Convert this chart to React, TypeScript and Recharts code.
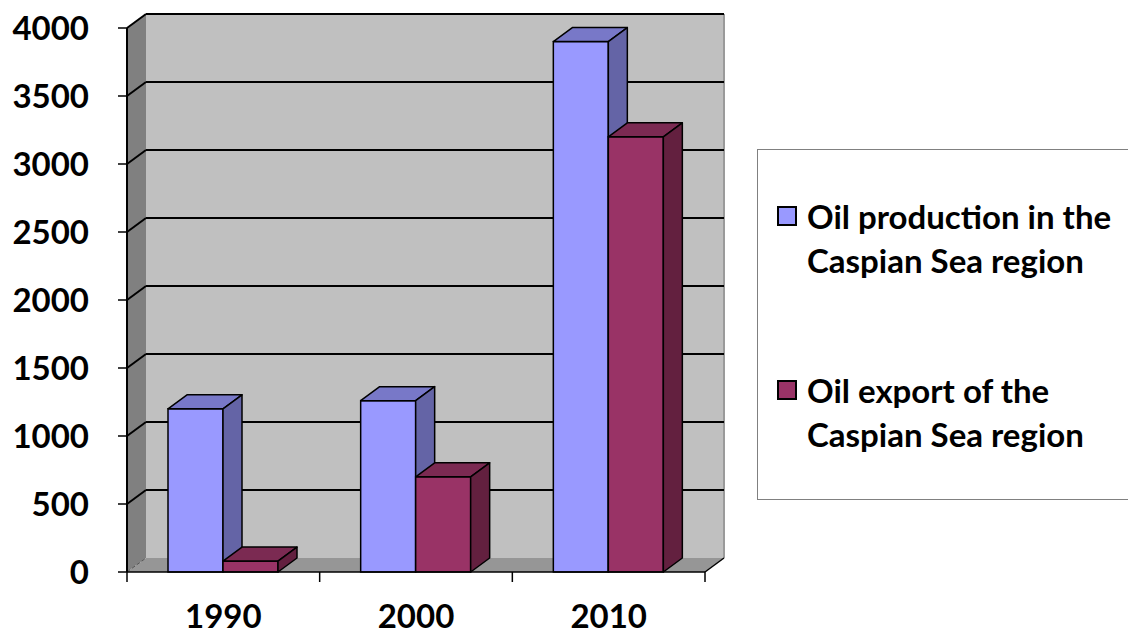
import { Bar, BarChart, CartesianGrid, XAxis, YAxis } from "recharts";

const years = ["1990", "2000", "2010"];
const production = [1200, 1260, 3900];
const exports = [80, 700, 3200];
const yTicks = [0, 500, 1000, 1500, 2000, 2500, 3000, 3500, 4000];

const series = [
  {
    key: "production",
    name: "Oil production in the Caspian Sea region",
    lines: ["Oil production in the", "Caspian Sea region"],
    front: "#9999ff",
    top: "#7878c8",
    side: "#6464a6",
  },
  {
    key: "export",
    name: "Oil export of the Caspian Sea region",
    lines: ["Oil export of the", "Caspian Sea region"],
    front: "#993366",
    top: "#7b2a52",
    side: "#63203f",
  },
];

const data = years.map((year, i) => ({
  year,
  production: production[i],
  export: exports[i],
}));

// depth of the fake 3d effect
const DX = 19;
const DY = -14;
const FONT = "Lato, 'Open Sans', sans-serif";

const makeBox = (s: (typeof series)[number]) => (props: any) => {
  const { x, y, width: w, height: h } = props;
  if (w == null || h == null) return null;
  return (
    <g>
      <rect x={x} y={y} width={w} height={h} fill={s.front} stroke="#000" strokeWidth={1.5} />
      <polygon
        points={`${x},${y} ${x + DX},${y + DY} ${x + w + DX},${y + DY} ${x + w},${y}`}
        fill={s.top}
        stroke="#000"
        strokeWidth={1.5}
        strokeLinejoin="round"
      />
      <polygon
        points={`${x + w},${y} ${x + w + DX},${y + DY} ${x + w + DX},${y + h + DY} ${x + w},${y + h}`}
        fill={s.side}
        stroke="#000"
        strokeWidth={1.5}
        strokeLinejoin="round"
      />
    </g>
  );
};

const GridLine = (props: any) => {
  const { x1, y1, x2, index, x, y, width, height, horizontalPoints } = props;
  const pts: number[] = horizontalPoints || [y1];
  const top = y ?? Math.min(...pts);
  const bottom = height != null ? y + height : Math.max(...pts);
  const left = x ?? x1;
  const w = width ?? x2 - x1;
  const isFloor = Math.abs(y1 - bottom) < 1;
  return (
    <g key={`grid-${index}`}>
      {index === 0 && (
        <g>
          <rect x={left + DX} y={top + DY} width={w} height={bottom - top} fill="#c0c0c0" />
          <line x1={left + w + DX} y1={top + DY} x2={left + w + DX} y2={bottom + DY} stroke="#9a9a9a" strokeWidth={2} />
          <polygon
            points={`${left},${bottom} ${left},${top} ${left + DX},${top + DY} ${left + DX},${bottom + DY}`}
            fill="#808080"
          />
          <polygon
            points={`${left},${bottom} ${left + w},${bottom} ${left + w + DX},${bottom + DY} ${left + DX},${bottom + DY}`}
            fill="#969696"
          />
          <line x1={left + w} y1={bottom} x2={left + w + DX} y2={bottom + DY} stroke="#000" strokeWidth={1.5} />
        </g>
      )}
      {isFloor ? (
        <line x1={left} y1={y1} x2={left + DX} y2={y1 + DY} stroke="#555" strokeWidth={1} strokeDasharray="4 2" />
      ) : (
        <g>
          <line x1={left + DX} y1={y1 + DY} x2={left + w + DX} y2={y1 + DY} stroke="#000" strokeWidth={2} />
          <line x1={left} y1={y1} x2={left + DX} y2={y1 + DY} stroke="#000" strokeWidth={2} />
        </g>
      )}
    </g>
  );
};

const YearTick = (props: any) => {
  const { x, y, payload, index, width, visibleTicksCount } = props;
  const half = width && visibleTicksCount ? width / (2 * visibleTicksCount) : payload.offset;
  return (
    <g>
      <line x1={x - half} y1={y} x2={x - half} y2={y + 10} stroke="#000" strokeWidth={1.5} />
      {index === visibleTicksCount - 1 && (
        <line x1={x + half} y1={y} x2={x + half} y2={y + 10} stroke="#000" strokeWidth={1.5} />
      )}
      <text x={x} y={y + 43} textAnchor="middle" dominantBaseline="central" fontFamily={FONT} fontWeight="bold" fontSize={33} fill="#000">
        {payload.value}
      </text>
    </g>
  );
};

const App = () => {
  return (
    <div style={{ position: "absolute", left: 0, top: 0, width: 1128, height: 637, overflow: "hidden", background: "#fff" }}>
      <BarChart
        width={1128}
        height={637}
        data={data}
        margin={{ top: 28, right: 423, bottom: 0, left: 0 }}
        barSize={55}
        barGap={0}
      >
        <CartesianGrid vertical={false} horizontal={GridLine} />
        <XAxis
          dataKey="year"
          height={65}
          tick={<YearTick />}
          tickLine={false}
          tickSize={0}
          tickMargin={0}
          axisLine={{ stroke: "#000", strokeWidth: 1.5 }}
        />
        <YAxis
          width={127}
          domain={[0, 4000]}
          ticks={yTicks}
          interval={0}
          tickSize={9}
          tickMargin={29}
          tickLine={{ stroke: "#000", strokeWidth: 1.5 }}
          axisLine={{ stroke: "#000", strokeWidth: 2 }}
          tick={{ fill: "#000", fontFamily: FONT, fontWeight: "bold", fontSize: 33 }}
        />
        {series.map((s) => (
          <Bar key={s.key} dataKey={s.key} name={s.name} shape={makeBox(s)} isAnimationActive={false} />
        ))}
      </BarChart>
      <div
        style={{
          position: "absolute",
          left: 757,
          top: 149,
          width: 371,
          height: 351,
          borderTop: "1.5px solid #808080",
          borderLeft: "1.5px solid #808080",
          borderBottom: "1.5px solid #808080",
          boxSizing: "border-box",
          fontFamily: FONT,
          fontWeight: "bold",
          fontSize: 33,
          lineHeight: "44px",
          color: "#000",
        }}
      >
        {series.map((s, i) => (
          <div key={s.key} style={{ position: "absolute", left: 19, top: 44 + i * 174, display: "flex", alignItems: "flex-start" }}>
            <div
              style={{
                width: 20,
                height: 20,
                marginTop: 12,
                marginRight: 10,
                background: s.front,
                border: "2px solid #000",
                boxSizing: "border-box",
              }}
            />
            <div>
              {s.lines.map((l) => (
                <div key={l} style={{ whiteSpace: "nowrap" }}>{l}</div>
              ))}
            </div>
          </div>
        ))}
      </div>
    </div>
  );
};

export default App;
